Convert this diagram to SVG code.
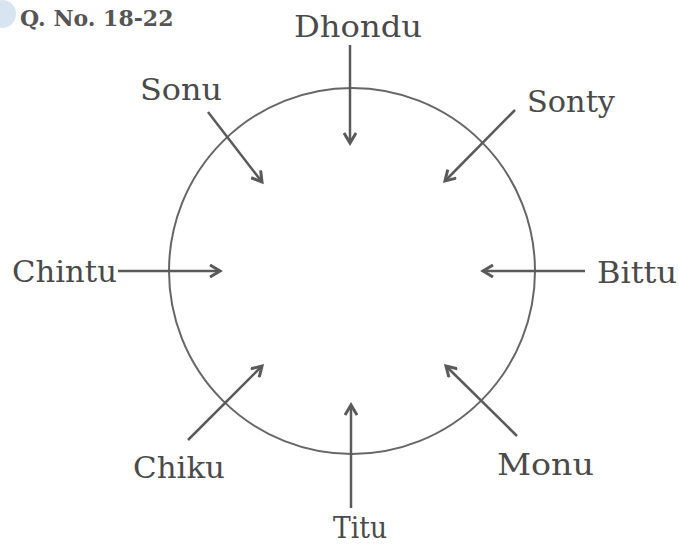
<svg xmlns="http://www.w3.org/2000/svg" width="679" height="544" viewBox="0 0 679 544">
<style>
text{font-family:"DejaVu Serif","Liberation Serif",serif;font-size:30px;fill:#4a4a4a}
.c{fill:none;stroke:#666;stroke-width:2}
.a{fill:none;stroke:#5a5a5a;stroke-width:2.5;marker-end:url(#h)}
</style>
<defs>
<marker id="h" viewBox="0 0 14 14" refX="11" refY="7" markerWidth="14" markerHeight="14" markerUnits="userSpaceOnUse" orient="auto">
<path d="M1,1 L11,7 L1,13" fill="none" stroke="#5a5a5a" stroke-width="3"/>
</marker>
</defs>
<rect width="679" height="544" fill="#fff"/>
<circle cx="2" cy="14" r="14" fill="#d8e4ef"/>
<text x="20" y="26" style="font-weight:bold;fill:#555;font-size:22px">Q. No. 18-22</text>
<g id="circle"><circle class="c" cx="352" cy="271" r="183"/></g>
<g id="connectors">
<line class="a" x1="350" y1="45" x2="350" y2="143"/>
<line class="a" x1="208" y1="112" x2="262" y2="182"/>
<line class="a" x1="515" y1="110" x2="445" y2="181"/>
<line class="a" x1="118" y1="271" x2="220" y2="271"/>
<line class="a" x1="585" y1="271" x2="483" y2="271"/>
<line class="a" x1="188" y1="440" x2="262" y2="366"/>
<line class="a" x1="517" y1="436" x2="446" y2="366"/>
<line class="a" x1="351" y1="508" x2="351" y2="405"/>
</g>
<g id="dhondu"><text x="294" y="37" textLength="128" lengthAdjust="spacingAndGlyphs">Dhondu</text></g>
<g id="sonu"><text x="140" y="100" textLength="82" lengthAdjust="spacingAndGlyphs">Sonu</text></g>
<g id="sonty"><text x="527" y="112" textLength="88" lengthAdjust="spacingAndGlyphs">Sonty</text></g>
<g id="chintu"><text x="12" y="282" textLength="105" lengthAdjust="spacingAndGlyphs">Chintu</text></g>
<g id="bittu"><text x="597" y="283" textLength="80" lengthAdjust="spacingAndGlyphs">Bittu</text></g>
<g id="chiku"><text x="133" y="478" textLength="92" lengthAdjust="spacingAndGlyphs">Chiku</text></g>
<g id="monu"><text x="497" y="475" textLength="97" lengthAdjust="spacingAndGlyphs">Monu</text></g>
<g id="titu"><text x="333" y="538" textLength="54" lengthAdjust="spacingAndGlyphs">Titu</text></g>
</svg>
